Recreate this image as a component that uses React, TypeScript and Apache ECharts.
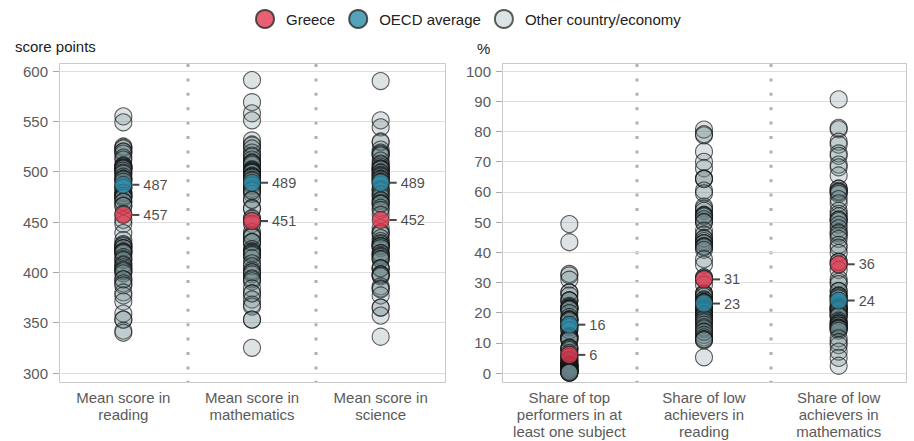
import React, { useEffect, useRef } from "react";
import * as echarts from "echarts";

// ---- Data (PISA-style) ----
const scoreCategories = ["Mean score in\nreading", "Mean score in\nmathematics", "Mean score in\nscience"];
const shareCategories = [
  "Share of top\nperformers in at\nleast one subject",
  "Share of low\nachievers in\nreading",
  "Share of low\nachievers in\nmathematics",
];

const readingOthers = [
  555, 549, 525, 524, 523, 520, 520, 518, 514, 512, 506, 506, 505, 504, 504, 503, 503, 501, 499, 498,
  495, 493, 493, 492, 490, 485, 484, 484, 479, 479, 479, 476, 476, 476, 474, 474, 470, 470, 466, 466,
  458, 452, 448, 439, 432, 428, 427, 426, 424, 424, 421, 420, 420, 419, 415, 413, 412, 408, 407, 405,
  403, 402, 401, 399, 393, 393, 389, 387, 380, 377, 371, 359, 353, 353, 342, 340,
];
const mathOthers = [
  591, 569, 558, 551, 531, 527, 526, 523, 519, 516, 515, 512, 509, 509, 508, 507, 502, 502, 501, 500,
  500, 499, 499, 496, 495, 495, 494, 492, 491, 488, 487, 486, 483, 481, 481, 481, 478, 472, 472, 464,
  463, 454, 453, 451, 448, 440, 437, 436, 435, 430, 430, 430, 423, 421, 420, 419, 418, 417, 414, 409,
  406, 402, 400, 400, 398, 394, 393, 391, 384, 379, 379, 373, 368, 366, 353, 353, 325,
];
const scienceOthers = [
  590, 551, 544, 530, 529, 522, 519, 518, 517, 516, 511, 508, 507, 505, 503, 503, 503, 502, 499, 499,
  497, 496, 495, 493, 493, 492, 490, 490, 487, 483, 482, 481, 478, 477, 475, 472, 471, 469, 468, 468,
  464, 462, 457, 444, 440, 439, 438, 434, 431, 429, 428, 426, 426, 426, 424, 419, 419, 417, 416, 415,
  413, 413, 404, 404, 404, 398, 398, 397, 396, 386, 384, 383, 377, 365, 365, 357, 336,
];
const topPerformersOthers = [
  49.3, 43.3, 32.8, 32.3, 30.9, 26.7, 26.6, 25.6, 24.1, 24.0, 24.0, 22.2, 21.8, 21.6, 21.3, 21.2, 21.2, 21.0, 19.8, 18.5,
  17.8, 17.7, 17.6, 17.5, 17.2, 15.8, 15.8, 15.6, 15.2, 15.2, 14.2, 14.1, 12.2, 12.0, 11.9, 11.6, 11.4, 11.0, 10.9, 8.4,
  8.3, 8.0, 7.6, 6.6, 6.0, 5.4, 5.3, 4.5, 4.1, 4.1, 3.5, 2.9, 2.7, 2.6, 2.5, 2.5, 2.4, 2.3, 2.2, 1.8,
  1.7, 1.7, 1.4, 1.2, 1.1, 1.1, 1.1, 0.9, 0.6, 0.6, 0.5, 0.5, 0.4, 0.3, 0.1, 0.1, 0.1,
];
const lowReadingOthers = [
  80.6, 79.1, 78.7, 73.3, 69.9, 67.8, 64.4, 64.3, 64.2, 60.4, 59.5, 55.1, 54.4, 53.7, 52.4, 52.2, 52.1, 51.8, 50.9, 50.0,
  49.9, 47.1, 45.8, 44.7, 44.4, 43.7, 43.0, 42.9, 42.0, 41.9, 41.6, 40.8, 37.7, 35.9, 31.7, 31.4, 31.1, 29.3, 26.4, 26.1,
  25.9, 25.3, 24.4, 24.1, 23.6, 23.6, 23.4, 23.3, 22.4, 22.1, 21.6, 21.3, 20.9, 20.7, 20.7, 20.2, 19.6, 19.3, 19.3, 19.0,
  18.4, 17.9, 17.8, 17.3, 16.8, 16.0, 15.1, 14.7, 13.8, 13.5, 12.6, 11.8, 11.2, 11.1, 10.8, 5.2,
];
const lowMathOthers = [
  90.6, 81.2, 80.7, 76.6, 75.6, 72.7, 71.9, 69.0, 68.1, 65.4, 61.1, 61.0, 60.3, 60.0, 59.8, 59.3, 57.6, 56.2, 53.7, 52.7,
  51.9, 50.9, 50.7, 50.3, 49.1, 47.9, 46.6, 46.2, 45.5, 44.4, 42.4, 41.5, 39.7, 36.9, 36.7, 35.9, 34.1, 31.2, 30.2, 29.4,
  27.2, 27.1, 25.6, 25.6, 25.1, 24.7, 23.8, 23.3, 22.4, 21.8, 21.6, 21.3, 21.1, 21.1, 20.7, 20.4, 19.7, 19.2, 18.9, 18.8,
  17.3, 16.8, 16.4, 16.3, 15.8, 15.7, 15.0, 15.0, 14.7, 14.6, 14.0, 11.5, 10.2, 9.2, 7.1, 5.0, 2.4,
];

const greeceScores = [457, 451, 452];
const oecdScores = [487, 489, 489];
const greeceShares = [6, 31, 36];
const oecdShares = [16, 23, 24];

const scoreTicks = { min: 300, max: 600, interval: 50 };
const shareTicks = { min: 0, max: 100, interval: 10 };

// ---- Layout / style ----
const W = 914;
const H = 441;
const FONT = "Liberation Sans, Arial, Helvetica, sans-serif";
const GRID_TOP = 71;
const GRID_BOTTOM = 68;
const FRAME_TOP = 63;
const FRAME_BOTTOM = 382;
const P1 = { left: 59, right: 445 };
const P2 = { left: 502, right: 906 };

const OTHER_STYLE = { color: "rgba(105,128,132,0.28)", borderColor: "rgba(20,20,20,0.85)", borderWidth: 1.1 };
const GREECE_STYLE = { color: "#E2384F", borderColor: "#2a2a2a", borderWidth: 1 };
const OECD_STYLE = { color: "#2A8CAA", borderColor: "#2a2a2a", borderWidth: 1 };

const toPoints = (values: number[], catIndex: number) => values.map((v) => [catIndex, v]);

export default function App() {
  const ref = useRef<HTMLDivElement>(null);

  useEffect(() => {
    if (!ref.current) return;
    const chart = echarts.init(ref.current, undefined, { renderer: "svg" });

    const labelCfg = {
      show: true,
      position: "right",
      distance: 0,
      formatter: (p: any) => "{l|}{v|" + p.value[1] + "}",
      rich: {
        l: { width: 7, height: 2, backgroundColor: "#1a1a1a" },
        v: { fontSize: 14.5, color: "#1a1a1a", fontFamily: FONT, padding: [0, 0, 0, 4] },
      },
    };

    const yAxisBase = (t: { min: number; max: number; interval: number }, idx: number) => ({
      type: "value",
      gridIndex: idx,
      min: t.min,
      max: t.max,
      interval: t.interval,
      axisLine: { show: false },
      axisTick: { show: true, length: 6, lineStyle: { color: "#a8a8a8" } },
      axisLabel: { fontSize: 15, color: "#5a5a5a", fontFamily: FONT, margin: 11 },
      splitLine: { show: true, lineStyle: { color: "#dedede", width: 1 } },
    });

    const xAxisBase = (cats: string[], idx: number) => ({
      type: "category",
      gridIndex: idx,
      data: cats,
      axisLine: { show: false },
      axisTick: { show: false },
      splitLine: { show: false },
      axisLabel: {
        interval: 0,
        fontSize: 15,
        lineHeight: 17,
        color: "#5a5a5a",
        fontFamily: FONT,
        margin: 16,
      },
    });

    const separators: any[] = [];
    [P1, P2].forEach((p) => {
      const w = (p.right - p.left) / 3;
      for (let k = 1; k < 3; k++) {
        const x = Math.round(p.left + w * k);
        separators.push({
          type: "line",
          shape: { x1: x, y1: FRAME_TOP + 1, x2: x, y2: FRAME_BOTTOM },
          style: { stroke: "#b0b0b0", lineWidth: 3, lineDash: [3, 11.4] },
          silent: true,
          z: 0,
        });
      }
    });

    const frames = [P1, P2].map((p) => ({
      type: "rect",
      shape: { x: p.left + 0.5, y: FRAME_TOP + 0.5, width: p.right - p.left, height: FRAME_BOTTOM - FRAME_TOP },
      style: { fill: "none", stroke: "#c9c9c9", lineWidth: 1 },
      silent: true,
      z: 0,
    }));

    const otherSeries = (arrs: number[][], idx: number) => ({
      name: "Other country/economy",
      type: "scatter",
      xAxisIndex: idx,
      yAxisIndex: idx,
      symbol: "circle",
      symbolSize: 17,
      itemStyle: OTHER_STYLE,
      data: arrs.flatMap((a, i) => toPoints(a, i)),
      z: 2,
    });

    const keySeries = (name: string, vals: number[], idx: number, style: any) => ({
      name,
      type: "scatter",
      xAxisIndex: idx,
      yAxisIndex: idx,
      symbol: "circle",
      symbolSize: 17,
      itemStyle: style,
      label: labelCfg,
      data: vals.map((v, i) => [i, v]),
      z: 4,
    });

    chart.setOption({
      animation: false,
      backgroundColor: "#ffffff",
      textStyle: { fontFamily: FONT },
      legend: {
        left: 250,
        top: 4,
        itemWidth: 18,
        itemHeight: 18,
        itemGap: 13,
        icon: "circle",
        data: ["Greece", "OECD average", "Other country/economy"],
        textStyle: { fontSize: 15, color: "#222", fontFamily: FONT, padding: [0, 0, 0, 7] },
      },
      grid: [
        { left: P1.left, right: W - P1.right, top: GRID_TOP, bottom: GRID_BOTTOM },
        { left: P2.left, right: W - P2.right, top: GRID_TOP, bottom: GRID_BOTTOM },
      ],
      xAxis: [xAxisBase(scoreCategories, 0), xAxisBase(shareCategories, 1)],
      yAxis: [yAxisBase(scoreTicks, 0), yAxisBase(shareTicks, 1)],
      graphic: [
        ...frames,
        ...separators,
        {
          type: "text",
          left: 15,
          top: 39,
          style: { text: "score points", fontSize: 15, fill: "#222", fontFamily: FONT },
          silent: true,
        },
        {
          type: "text",
          left: 477,
          top: 41,
          style: { text: "%", fontSize: 15, fill: "#222", fontFamily: FONT },
          silent: true,
        },
      ],
      series: [
        otherSeries([readingOthers, mathOthers, scienceOthers], 0),
        otherSeries([topPerformersOthers, lowReadingOthers, lowMathOthers], 1),
        keySeries("OECD average", oecdScores, 0, OECD_STYLE),
        keySeries("OECD average", oecdShares, 1, OECD_STYLE),
        keySeries("Greece", greeceScores, 0, GREECE_STYLE),
        keySeries("Greece", greeceShares, 1, GREECE_STYLE),
      ],
    });

    return () => chart.dispose();
  }, []);

  return <div ref={ref} style={{ position: "absolute", left: 0, top: 0, width: W, height: H }} />;
}
